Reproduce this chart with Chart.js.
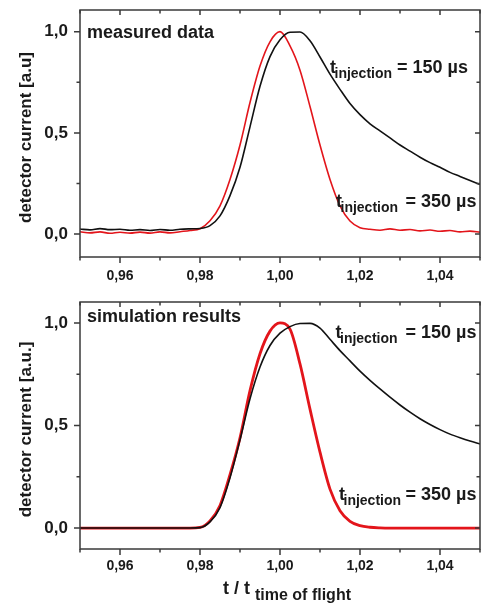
<!DOCTYPE html>
<html><head><meta charset="utf-8">
<script src="https://cdn.jsdelivr.net/npm/chart.js@4.4.1/dist/chart.umd.min.js"></script>
<style>
html,body{margin:0;padding:0;background:#fff;overflow:hidden;width:481px;height:606px}
canvas{position:absolute;left:0}
#c1{top:0}#c2{top:290px}
</style></head>
<body>
<canvas id="c1" width="481" height="290"></canvas>
<canvas id="c2" width="481" height="316"></canvas>
<script>
// ---- data (t / t_time of flight) ----
const timeAxis = [0.950,0.9525,0.955,0.9575,0.960,0.9625,0.965,0.9675,0.970,0.9725,0.975,0.9775,
  0.980,0.9825,0.985,0.9875,0.990,0.9925,0.995,0.9975,1.000,1.0025,1.005,1.0075,1.010,1.0125,
  1.015,1.0175,1.020,1.0225,1.025,1.0275,1.030,1.0325,1.035,1.0375,1.040,1.0425,1.045,1.0475,1.050];

// measured data
const measured150 = [0.025,0.021,0.027,0.022,0.024,0.019,0.022,0.018,0.023,0.019,0.024,0.026,
  0.028,0.042,0.09,0.19,0.33,0.53,0.73,0.877,0.96,0.997,0.998,0.955,0.875,0.79,
  0.715,0.645,0.59,0.545,0.51,0.475,0.44,0.41,0.38,0.353,0.33,0.305,0.285,0.265,0.245];
const measured350 = [0.012,0.006,0.011,0.004,0.009,0.005,0.010,0.005,0.011,0.006,0.012,0.018,
  0.027,0.066,0.14,0.27,0.44,0.65,0.83,0.95,1.0,0.93,0.81,0.63,0.44,0.27,
  0.14,0.065,0.032,0.024,0.019,0.026,0.019,0.023,0.016,0.020,0.014,0.018,0.011,0.015,0.010];

// simulation results
const sim150 = [0,0,0,0,0,0,0,0,0,0,0,0,
  0.002,0.03,0.10,0.245,0.43,0.63,0.785,0.89,0.95,0.982,0.997,0.998,0.975,0.92,
  0.865,0.815,0.765,0.72,0.678,0.638,0.60,0.565,0.533,0.505,0.48,0.458,0.44,0.424,0.41];
const sim350 = [0,0,0,0,0,0,0,0,0,0,0,0,
  0.003,0.035,0.11,0.26,0.44,0.67,0.85,0.96,1.0,0.97,0.80,0.58,0.37,0.19,
  0.085,0.033,0.012,0.004,0.001,0,0,0,0,0,0,0,0,0,0];

// ticks
const xMajorTicks = [0.96,0.98,1.00,1.02,1.04];
const xMinorTicks = [0.95,0.97,0.99,1.01,1.03,1.05];
const yMajorTicks = [0.0,0.5,1.0];
const yMinorTicks = [0.25,0.75];

// ---- rendering ----
const FONT = '"Liberation Sans", Arial, Helvetica, sans-serif';
const AXIS = '#3a3a3a';
const TEXT = '#1a1a1a';
const RED = '#e3151b';
const BLACK = '#111111';

const pts = (xs, ys) => xs.map((x, i) => ({x, y: ys[i]}));

function subText(ctx, tx, sx, restX, base, drop, main, sub, rest) {
  ctx.fillStyle = TEXT;
  ctx.textAlign = 'left';
  ctx.textBaseline = 'alphabetic';
  ctx.font = 'bold 18px ' + FONT;
  ctx.fillText(main, tx, base);
  if (rest) ctx.fillText(rest, restX, base);
  ctx.font = 'bold 14px ' + FONT;
  ctx.fillText(sub, sx, base + drop);
}

const frame = {
  id: 'frame',
  afterDraw(chart, args, o) {
    const {ctx, chartArea: a, scales: {x, y}} = chart;
    ctx.save();
    ctx.strokeStyle = AXIS;
    ctx.lineWidth = 1.5;
    ctx.strokeRect(a.left, a.top, a.right - a.left, a.bottom - a.top);
    ctx.beginPath();
    const seg = (x1, y1, x2, y2) => { ctx.moveTo(x1, y1); ctx.lineTo(x2, y2); };
    xMajorTicks.forEach(v => { const p = x.getPixelForValue(v); seg(p, a.bottom, p, a.bottom + 6); seg(p, a.top, p, a.top + 5); });
    xMinorTicks.forEach(v => { const p = x.getPixelForValue(v); seg(p, a.bottom, p, a.bottom + 3.5); seg(p, a.top, p, a.top + 3.5); });
    yMajorTicks.forEach(v => { const p = y.getPixelForValue(v); seg(a.left - 6, p, a.left, p); seg(a.right - 5, p, a.right, p); });
    yMinorTicks.forEach(v => { const p = y.getPixelForValue(v); seg(a.left - 3.5, p, a.left, p); seg(a.right - 3.5, p, a.right, p); });
    ctx.stroke();

    // y title
    ctx.save();
    ctx.fillStyle = TEXT;
    ctx.font = 'bold 17px ' + FONT;
    ctx.textAlign = 'center';
    ctx.textBaseline = 'middle';
    ctx.translate(26, (a.top + a.bottom) / 2 + 4);
    ctx.rotate(-Math.PI / 2);
    ctx.fillText(o.yTitle, 0, 0);
    ctx.restore();

    // panel label
    ctx.fillStyle = TEXT;
    ctx.font = 'bold 18px ' + FONT;
    ctx.textAlign = 'left';
    ctx.textBaseline = 'alphabetic';
    ctx.fillText(o.panel, 87, o.panelY);

    // curve labels
    o.labels.forEach(l => subText(ctx, l.tx, l.tx + 4.5, l.rx, l.base, 5, 't', 'injection', l.rest));

    // x title
    if (o.xTitle) {
      ctx.fillStyle = TEXT;
      ctx.font = 'bold 18px ' + FONT;
      ctx.fillText('t / t', 223, o.xTitleY);
      ctx.font = 'bold 16px ' + FONT;
      ctx.fillText('time of flight', 255, o.xTitleY + 6);
    }
    ctx.restore();
  }
};

function makeChart(id, cfg) {
  return new Chart(document.getElementById(id), {
    type: 'scatter',
    data: {
      datasets: [
        {data: pts(timeAxis, cfg.black), borderColor: BLACK, borderWidth: 1.6, showLine: true,
         pointRadius: 0, tension: 0.4, cubicInterpolationMode: 'monotone'},
        {data: pts(timeAxis, cfg.red), borderColor: RED, borderWidth: cfg.redWidth, showLine: true,
         pointRadius: 0, tension: 0.4, cubicInterpolationMode: 'monotone'}
      ]
    },
    options: {
      responsive: false,
      animation: false,
      devicePixelRatio: 1,
      layout: {padding: {top: cfg.padTop, right: 1, left: 0, bottom: 0}},
      plugins: {
        legend: {display: false},
        tooltip: {enabled: false},
        frame: cfg.frame
      },
      scales: {
        x: {
          type: 'linear', min: 0.95, max: 1.05,
          grid: {display: false, drawTicks: false}, border: {display: false},
          afterBuildTicks: s => { s.ticks = xMajorTicks.map(v => ({value: v})); },
          afterFit: s => { s.height = cfg.xHeight; s.paddingLeft = 0; s.paddingRight = 0; },
          ticks: {
            autoSkip: false, maxRotation: 0, padding: cfg.xPad, color: TEXT,
            font: {family: FONT, size: 14, weight: 'bold'},
            callback: v => v.toFixed(2).replace('.', ',')
          }
        },
        y: {
          type: 'linear', min: cfg.yMin, max: cfg.yMax,
          grid: {display: false, drawTicks: false}, border: {display: false},
          afterBuildTicks: s => { s.ticks = yMajorTicks.map(v => ({value: v})); },
          afterFit: s => { s.width = 80; s.paddingTop = 0; s.paddingBottom = 0; },
          ticks: {
            autoSkip: false, padding: 12, color: TEXT,
            font: {family: FONT, size: 17, weight: 'bold'},
            callback: v => v.toFixed(1).replace('.', ',')
          }
        }
      }
    },
    plugins: [frame]
  });
}

makeChart('c1', {
  black: measured150, red: measured350, redWidth: 1.6,
  padTop: 10, xHeight: 33, xPad: 11, yMin: -0.113, yMax: 1.107,
  frame: {
    yTitle: 'detector current [a.u]', panel: 'measured data', panelY: 38,
    labels: [{tx: 330, rx: 397, base: 73, rest: '= 150 µs'}, {tx: 336, rx: 405.5, base: 207, rest: '= 350 µs'}]
  }
});

makeChart('c2', {
  black: sim150, red: sim350, redWidth: 2.8,
  padTop: 12, xHeight: 57, xPad: 9, yMin: -0.102, yMax: 1.102,
  frame: {
    yTitle: 'detector current [a.u.]', panel: 'simulation results', panelY: 32,
    labels: [{tx: 335.5, rx: 405.5, base: 48, rest: '= 150 µs'}, {tx: 339, rx: 405.5, base: 210, rest: '= 350 µs'}],
    xTitle: true, xTitleY: 304
  }
});
</script>
</body></html>
